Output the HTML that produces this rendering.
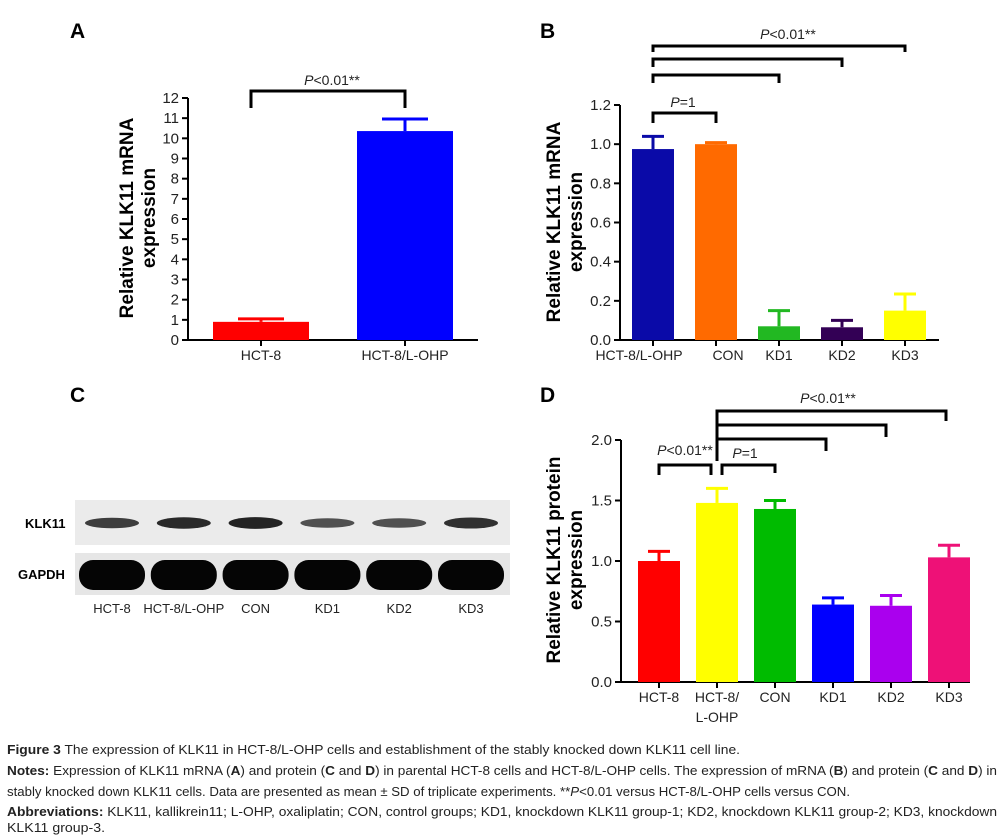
<!DOCTYPE html>
<html><head><meta charset="utf-8"><style>
html,body{margin:0;padding:0;background:#fff;}
svg{display:block;font-family:"Liberation Sans",sans-serif;}
</style></head><body>
<svg id="fig" width="1002" height="835" viewBox="0 0 1002 835" xmlns="http://www.w3.org/2000/svg">
<text x="70" y="38" font-size="21" font-weight="bold">A</text>
<text x="540" y="38" font-size="21" font-weight="bold">B</text>
<text x="70" y="402" font-size="21" font-weight="bold">C</text>
<text x="540" y="402" font-size="21" font-weight="bold">D</text>
<g id="pa"></g>
<g id="pb"></g>
<g id="pd"></g>
<g id="pc">
  <rect x="75" y="500" width="435" height="45" fill="#ebebeb"/>
  <rect x="75" y="553" width="435" height="42" fill="#e6e6e6"/>
  <text x="25" y="528" font-size="13" font-weight="bold">KLK11</text>
  <text x="18" y="579" font-size="13" font-weight="bold">GAPDH</text>
</g>
<g font-size="12.5" fill="#222">
  <text x="7" y="754" textLength="733" lengthAdjust="spacingAndGlyphs"><tspan font-weight="bold">Figure 3</tspan> The expression of KLK11 in HCT-8/L-OHP cells and establishment of the stably knocked down KLK11 cell line.</text>
  <text x="7" y="775" textLength="990" lengthAdjust="spacingAndGlyphs"><tspan font-weight="bold">Notes:</tspan> Expression of KLK11 mRNA (<tspan font-weight="bold">A</tspan>) and protein (<tspan font-weight="bold">C</tspan> and <tspan font-weight="bold">D</tspan>) in parental HCT-8 cells and HCT-8/L-OHP cells. The expression of mRNA (<tspan font-weight="bold">B</tspan>) and protein (<tspan font-weight="bold">C</tspan> and <tspan font-weight="bold">D</tspan>) in</text>
  <text x="7" y="796" textLength="843" lengthAdjust="spacingAndGlyphs">stably knocked down KLK11 cells. Data are presented as mean ± SD of triplicate experiments. **<tspan font-style="italic">P</tspan>&lt;0.01 versus HCT-8/L-OHP cells versus CON.</text>
  <text x="7" y="816" textLength="990" lengthAdjust="spacingAndGlyphs"><tspan font-weight="bold">Abbreviations:</tspan> KLK11, kallikrein11; L-OHP, oxaliplatin; CON, control groups; KD1, knockdown KLK11 group-1; KD2, knockdown KLK11 group-2; KD3, knockdown</text>
  <text x="7" y="832" textLength="98" lengthAdjust="spacingAndGlyphs">KLK11 group-3.</text>
</g>
</svg>
<script>
const NS="http://www.w3.org/2000/svg";
// Panel A data
const aCats=["HCT-8","HCT-8/L-OHP"];
const aVals=[0.9,10.36];
const aErr=[0.15,0.6];
const aTicks=[0,1,2,3,4,5,6,7,8,9,10,11,12];
// Panel B data
const bCats=["HCT-8/L-OHP","CON","KD1","KD2","KD3"];
const bVals=[0.975,1.0,0.07,0.065,0.15];
const bErr=[0.065,0.008,0.08,0.035,0.085];
const bTicks=[0,0.2,0.4,0.6,0.8,1.0,1.2];
// Panel D data
const dCats=["HCT-8","HCT-8/","CON","KD1","KD2","KD3"];
const dVals=[1.0,1.48,1.43,0.64,0.63,1.03];
const dErr=[0.08,0.12,0.07,0.055,0.085,0.1];
const dTicks=[0,0.5,1.0,1.5,2.0];
// Panel C band intensities
const cLanes=["HCT-8","HCT-8/L-OHP","CON","KD1","KD2","KD3"];
const cKlk=[0.75,0.9,0.95,0.6,0.6,0.85];

function el(parent,tag,attrs,name,inter){
  const e=document.createElementNS(NS,tag);
  for(const k in attrs)e.setAttribute(k,attrs[k]);
  
  
  parent.appendChild(e);return e;
}
function chart(g,o){
  const y=v=>o.y0-(v-o.tmin)/(o.tmax-o.tmin)*(o.y0-o.y1);
  const x=i=>o.cx0+i*o.step;
  el(g,'line',{x1:o.ax,y1:o.y1,x2:o.ax,y2:o.y0,stroke:'#000','stroke-width':2},'y-axis');
  el(g,'line',{x1:o.ax,y1:o.y0,x2:o.axEnd,y2:o.y0,stroke:'#000','stroke-width':2},'x-axis');
  o.ticks.forEach(t=>{
    el(g,'line',{x1:o.ax-6,y1:y(t),x2:o.ax,y2:y(t),stroke:'#000','stroke-width':2},'y-tick');
    const tx=el(g,'text',{x:o.ax-9,y:y(t)+5,'font-size':15,'text-anchor':'end',fill:'#222'},'y-tick-label');
    tx.textContent=o.fmt(t);
  });
  o.vals.forEach((v,i)=>{
    const c=x(i),w=o.bw;
    el(g,'rect',{x:c-w/2,y:y(v),width:w,height:o.y0-y(v),fill:o.colors[i]},'bar-'+o.cats[i].toLowerCase().replace(/[^a-z0-9]+/g,'-'));
    const top=y(v+o.err[i]);
    el(g,'line',{x1:c,y1:y(v),x2:c,y2:top,stroke:o.colors[i],'stroke-width':3},'error-bar');
    el(g,'line',{x1:c-o.cap,y1:top,x2:c+o.cap,y2:top,stroke:o.colors[i],'stroke-width':3},'error-cap');
    el(g,'line',{x1:c,y1:o.y0,x2:c,y2:o.y0+6,stroke:'#000','stroke-width':2},'x-tick');
    const lt=el(g,'text',{x:c+(o.lblDx?o.lblDx[i]:0),y:o.y0+20,'font-size':14,'text-anchor':'middle',fill:'#222'},'x-tick-label');
    lt.textContent=o.cats[i];
  });
  const t1=el(g,'text',{x:o.tx,y:o.ty,'font-size':19,'font-weight':'bold','text-anchor':'middle',transform:`rotate(-90 ${o.tx} ${o.ty})`},'y-axis-title');
  t1.textContent=o.title1;
  const t2=el(g,'text',{x:o.tx+22,y:o.ty,'font-size':19,'font-weight':'bold','text-anchor':'middle',transform:`rotate(-90 ${o.tx+22} ${o.ty})`},'y-axis-title-line2');
  t2.textContent='expression';
  return {x,y};
}
function bracket(g,x1,x2,yy,d1,d2){
  el(g,'path',{d:`M${x1} ${yy+d1} V${yy} H${x2} V${yy+d2}`,fill:'none',stroke:'#000','stroke-width':3},'significance-bracket');
}
function ptext(g,x,y,txt){
  const t=el(g,'text',{x:x,y:y,'font-size':14,'text-anchor':'middle',fill:'#222'},'p-value-label');
  const s=document.createElementNS(NS,'tspan');s.setAttribute('font-style','italic');s.textContent='P';t.appendChild(s);
  t.appendChild(document.createTextNode(txt));
}
// A
const ga=document.getElementById('pa');
const A=chart(ga,{ax:188,axEnd:478,y0:340,y1:98,tmin:0,tmax:12,ticks:aTicks,fmt:t=>String(t),cats:aCats,vals:aVals,err:aErr,cx0:261,step:144,bw:96,cap:23,colors:['#ff0000','#0000ff'],tx:133,ty:218,title1:'Relative KLK11 mRNA'});
bracket(ga,A.x(0)-10,A.x(1),91,17,17);
ptext(ga,332,85,'<0.01**');
// B
const gb=document.getElementById('pb');
const B=chart(gb,{ax:620,axEnd:939,y0:340,y1:105,tmin:0,tmax:1.2,ticks:bTicks,fmt:t=>t.toFixed(1),cats:bCats,vals:bVals,err:bErr,cx0:653,step:63,bw:42,cap:11,colors:['#0a0aa8','#ff6a00','#22b822','#330055','#ffff00'],tx:560,ty:222,title1:'Relative KLK11 mRNA',lblDx:[-14,12,0,0,0]});
bracket(gb,B.x(0),B.x(1),113,10,10);
ptext(gb,683,107,'=1');
bracket(gb,B.x(0),B.x(2),75,8,8);
bracket(gb,B.x(0),B.x(3),59,8,8);
bracket(gb,B.x(0),B.x(4),46,6,6);
ptext(gb,788,39,'<0.01**');
// D
const gd=document.getElementById('pd');
const D=chart(gd,{ax:621,axEnd:970,y0:682,y1:440,tmin:0,tmax:2,ticks:dTicks,fmt:t=>t.toFixed(1),cats:dCats,vals:dVals,err:dErr,cx0:659,step:58,bw:42,cap:11,colors:['#ff0000','#ffff00','#00bb00','#0000ff','#aa00ee','#ee1177'],tx:560,ty:560,title1:'Relative KLK11 protein'});
const l2=el(gd,'text',{x:D.x(1),y:722,'font-size':14,'text-anchor':'middle',fill:'#222'},'x-tick-label-line2');
l2.textContent='L-OHP';
bracket(gd,D.x(0),D.x(1)-6,465,10,10);
ptext(gd,685,455,'<0.01**');
bracket(gd,D.x(1)+5,D.x(2),465,10,8);
ptext(gd,745,458,'=1');
bracket(gd,D.x(1),D.x(3)-7,439,12,12);
bracket(gd,D.x(1),D.x(4)-5,425,12,12);
bracket(gd,D.x(1),D.x(5)-3,411,50,10);
ptext(gd,828,403,'<0.01**');
// C
const gc=document.getElementById('pc');
const laneX=i=>112+i*71.8;
cLanes.forEach((n,i)=>{
  const c=laneX(i);
  const k=cKlk[i];
  el(gc,'ellipse',{cx:c,cy:523,rx:27,ry:3+3*k,fill:'#111',opacity:0.35+0.6*k},'klk11-band');
  el(gc,'rect',{x:c-33,y:560,width:66,height:30,rx:14,fill:'#050505'},'gapdh-band');
  const t=el(gc,'text',{x:c,y:613,'font-size':13,'text-anchor':'middle',fill:'#222'},'lane-label');
  t.textContent=n;
});
</script>
</body></html>
